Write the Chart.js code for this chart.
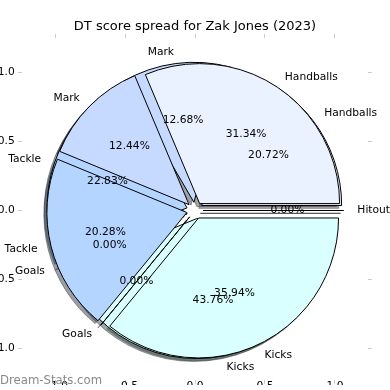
<!DOCTYPE html>
<html>
<head>
<meta charset="utf-8">
<script src="https://cdn.jsdelivr.net/npm/chart.js@4.4.0/dist/chart.umd.min.js"></script>
<style>
  body { margin: 0; background: #fff; }
  #grafico { display: block; }
</style>
</head>
<body>
<canvas id="grafico" width="390" height="390"></canvas>
<script>
// dados
const categorias = ['Hitout', 'Handballs', 'Mark', 'Tackle', 'Goals', 'Kicks']
const pizzaFundo = [0, 20.72, 12.68, 22.83, 0, 43.76]   // pie desenhada por baixo
const pizzaFrente = [0, 31.34, 12.44, 20.28, 0, 35.94]  // pie por cima
const ticksValores = [-1, -0.5, 0, 0.5, 1]
const ticksTextos = ['−1.0', '−0.5', '0.0', '0.5', '1.0']

const cores = ['#f2f8ff', '#ebf2ff', '#c6daff', '#b4d5ff', '#a8c8ff', '#d9ffff']
const EXPLODE = 0.06
const SOMBRA = 0.021
const fonteTexto = '10.7px "DejaVu Sans"'

function fatias(valores) {
  const total = valores.reduce((a, b) => a + b, 0)
  let acum = 0
  return valores.map((v, i) => {
    const frac = v / total
    const t1 = acum * 360
    acum += frac
    const t2 = acum * 360
    return { i, frac, t1, t2, meio: (t1 + t2) / 2 }
  })
}

function rad(g) { return g * Math.PI / 180 }

function escuro(hex) {
  const n = parseInt(hex.slice(1), 16)
  const r = Math.round(((n >> 16) & 255) * 0.3)
  const g = Math.round(((n >> 8) & 255) * 0.3)
  const b = Math.round((n & 255) * 0.3)
  return `rgba(${r},${g},${b},0.5)`
}

const pizzas = {
  id: 'pizzas',
  afterDatasetsDraw(chart) {
    const ctx = chart.ctx
    const x = chart.scales.x
    const y = chart.scales.y
    const raio = x.getPixelForValue(1) - x.getPixelForValue(0)
    const listas = [fatias(pizzaFundo), fatias(pizzaFrente)]

    function caminho(f, dx, dy) {
      const ex = EXPLODE * Math.cos(rad(f.meio)) + dx
      const ey = EXPLODE * Math.sin(rad(f.meio)) + dy
      const px = x.getPixelForValue(ex)
      const py = y.getPixelForValue(ey)
      ctx.beginPath()
      ctx.moveTo(px, py)
      ctx.arc(px, py, raio, -rad(f.t1), -rad(f.t2), true)
      ctx.closePath()
    }

    ctx.save()
    ctx.lineJoin = 'miter'
    // sombras primeiro (ficam abaixo de todas as fatias)
    listas.forEach(lista => {
      lista.forEach(f => {
        caminho(f, -SOMBRA, -SOMBRA)
        ctx.fillStyle = escuro(cores[f.i])
        ctx.strokeStyle = escuro(cores[f.i])
        ctx.lineWidth = 1
        if (f.frac > 0) ctx.fill()
        ctx.stroke()
      })
    })
    listas.forEach(lista => {
      lista.forEach(f => {
        caminho(f, 0, 0)
        ctx.fillStyle = cores[f.i]
        if (f.frac > 0) ctx.fill()
        ctx.strokeStyle = '#000'
        ctx.lineWidth = 1
        ctx.stroke()
      })
    })

    // textos
    ctx.font = fonteTexto
    ctx.fillStyle = '#000'
    ctx.textBaseline = 'middle'
    const feitos = {}
    function escreve(txt, px, py) {
      const chave = txt + '@' + Math.round(px) + ',' + Math.round(py)
      if (feitos[chave]) return
      feitos[chave] = true
      ctx.fillText(txt, px, py)
    }
    listas.forEach(lista => {
      lista.forEach(f => {
        const c = Math.cos(rad(f.meio))
        const s = Math.sin(rad(f.meio))
        const ex = EXPLODE * c
        const ey = EXPLODE * s
        const lx = x.getPixelForValue(ex + 1.1 * c)
        const ly = y.getPixelForValue(ey + 1.1 * s)
        ctx.textAlign = (1.1 * c + ex) > 0 ? 'left' : 'right'
        escreve(categorias[f.i], lx, ly)
        const qx = x.getPixelForValue(ex + 0.6 * c)
        const qy = y.getPixelForValue(ey + 0.6 * s)
        ctx.textAlign = 'center'
        escreve((f.frac * 100).toFixed(2) + '%', qx, qy)
      })
    })
    ctx.restore()
  },
  afterDraw(chart) {
    const ctx = chart.ctx
    ctx.save()
    ctx.font = '11.7px "DejaVu Sans"'
    ctx.fillStyle = '#8a8a8a'
    ctx.textAlign = 'left'
    ctx.textBaseline = 'alphabetic'
    ctx.fillText('Dream-Stats.com', 0, 384)
    ctx.restore()
  }
}

function fixaTicks(scale) {
  scale.ticks = ticksValores.map(v => ({ value: v }))
}

const grade = { drawOnChartArea: false, drawTicks: true, tickLength: 3.7, color: '#c8c8c8', lineWidth: 1 }
const fonteTick = { family: 'DejaVu Sans', size: 10.7 }

function rotulo(valor) {
  const i = ticksValores.indexOf(valor)
  return i >= 0 ? ticksTextos[i] : ''
}

document.addEventListener('DOMContentLoaded', function () {
  Chart.defaults.font.family = 'DejaVu Sans'
  Chart.defaults.color = '#000'

  new Chart(document.getElementById('grafico'), {
    type: 'scatter',
    data: { datasets: [] },
    options: {
      responsive: false,
      animation: false,
      layout: { padding: 0 },
      plugins: {
        legend: { display: false },
        tooltip: { enabled: false },
        title: {
          display: true,
          text: 'DT score spread for Zak Jones (2023)',
          font: { family: 'DejaVu Sans', size: 13, weight: 'normal' },
          color: '#000',
          padding: { top: 19, bottom: 0 }
        }
      },
      scales: {
        x: {
          type: 'linear', position: 'bottom', min: -1.236, max: 1.236,
          afterBuildTicks: fixaTicks,
          afterFit: s => { s.height = 5 },
          grid: grade, border: { display: false },
          ticks: { font: fonteTick, color: '#000', padding: -4, maxRotation: 0, minRotation: 0, autoSkip: false, callback: rotulo }
        },
        x2: {
          type: 'linear', position: 'top', min: -1.236, max: 1.236,
          afterBuildTicks: fixaTicks,
          afterFit: s => { s.height = 3.4 },
          grid: grade, border: { display: false },
          ticks: { display: false }
        },
        y: {
          type: 'linear', position: 'left', min: -1.229, max: 1.25,
          afterBuildTicks: fixaTicks,
          afterFit: s => { s.width = 22 },
          grid: grade, border: { display: false },
          ticks: { font: fonteTick, color: '#000', padding: 3.5, autoSkip: false, callback: rotulo }
        },
        y2: {
          type: 'linear', position: 'right', min: -1.229, max: 1.25,
          afterBuildTicks: fixaTicks,
          afterFit: s => { s.width = 22 },
          grid: grade, border: { display: false },
          ticks: { display: false }
        }
      }
    },
    plugins: [pizzas]
  })
})
</script>
</body>
</html>
